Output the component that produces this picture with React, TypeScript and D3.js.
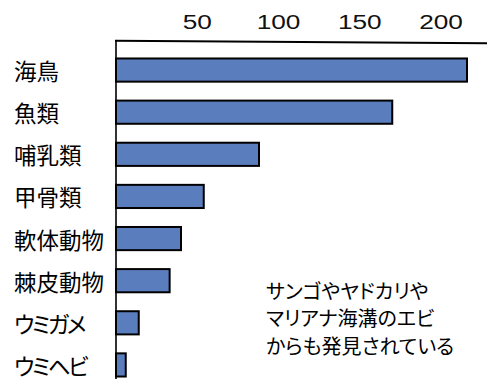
import React from "react";
import * as d3 from "d3";

const categories = ["海鳥", "魚類", "哺乳類", "甲骨類", "軟体動物", "棘皮動物", "ウミガメ", "ウミヘビ"];
const counts = [216, 170, 88, 54, 40, 33, 14, 6];
const tickValues = [50, 100, 150, 200];
const noteLines = ["サンゴやヤドカリや", "マリアナ海溝のエビ", "からも発見されている"];

const W = 500;
const H = 391;
const jpFont = "'Noto Sans CJK JP', sans-serif";

// kana-only labels are set tighter in the original
const isKana = (s: string) => /^[\u30a0-\u30ff]+$/.test(s);

const App = () => {
  const x = d3.scaleLinear().domain([0, 200]).range([116, 441]);
  const y = d3
    .scaleBand()
    .domain(categories)
    .range([49, 386])
    .paddingInner(0.45)
    .paddingOuter(0.225);

  return (
    <svg
      width={W}
      height={H}
      style={{ position: "absolute", left: 0, top: 0, background: "#fff" }}
    >
      {/* top axis labels, glyphs are wide in the original */}
      {tickValues.map((t) => (
        <text
          key={t}
          transform={`translate(${x(t)},29) scale(1.28,1)`}
          textAnchor="middle"
          fontFamily="'Liberation Sans', Arial, sans-serif"
          fontSize={20.5}
          fill="#111"
        >
          {t}
        </text>
      ))}
      <line x1={115} y1={40.8} x2={487} y2={43.2} stroke="#000" strokeWidth={2} />

      {categories.map((c, i) => (
        <g key={c}>
          <rect
            x={x(0)}
            y={y(c)}
            width={x(counts[i]) - x(0)}
            height={y.bandwidth()}
            fill="#5a7ebd"
            stroke="#000"
            strokeWidth={2}
          />
          <text
            x={14}
            y={(y(c) as number) + y.bandwidth() / 2}
            dominantBaseline="central"
            fontFamily={jpFont}
            fontSize={22.5}
            letterSpacing={isKana(c) ? -2.5 : 0}
            style={{ fontFeatureSettings: "'palt'" }}
            fill="#000"
          >
            {c}
          </text>
        </g>
      ))}
      <line x1={116} y1={40} x2={116} y2={379} stroke="#000" strokeWidth={1.6} />

      {noteLines.map((l, i) => (
        <text
          key={i}
          x={266}
          y={290 + i * 27.6}
          dominantBaseline="central"
          fontFamily={jpFont}
          fontSize={20}
          style={{ fontFeatureSettings: "'palt'" }}
          fill="#000"
        >
          {l}
        </text>
      ))}
    </svg>
  );
};

export default App;
